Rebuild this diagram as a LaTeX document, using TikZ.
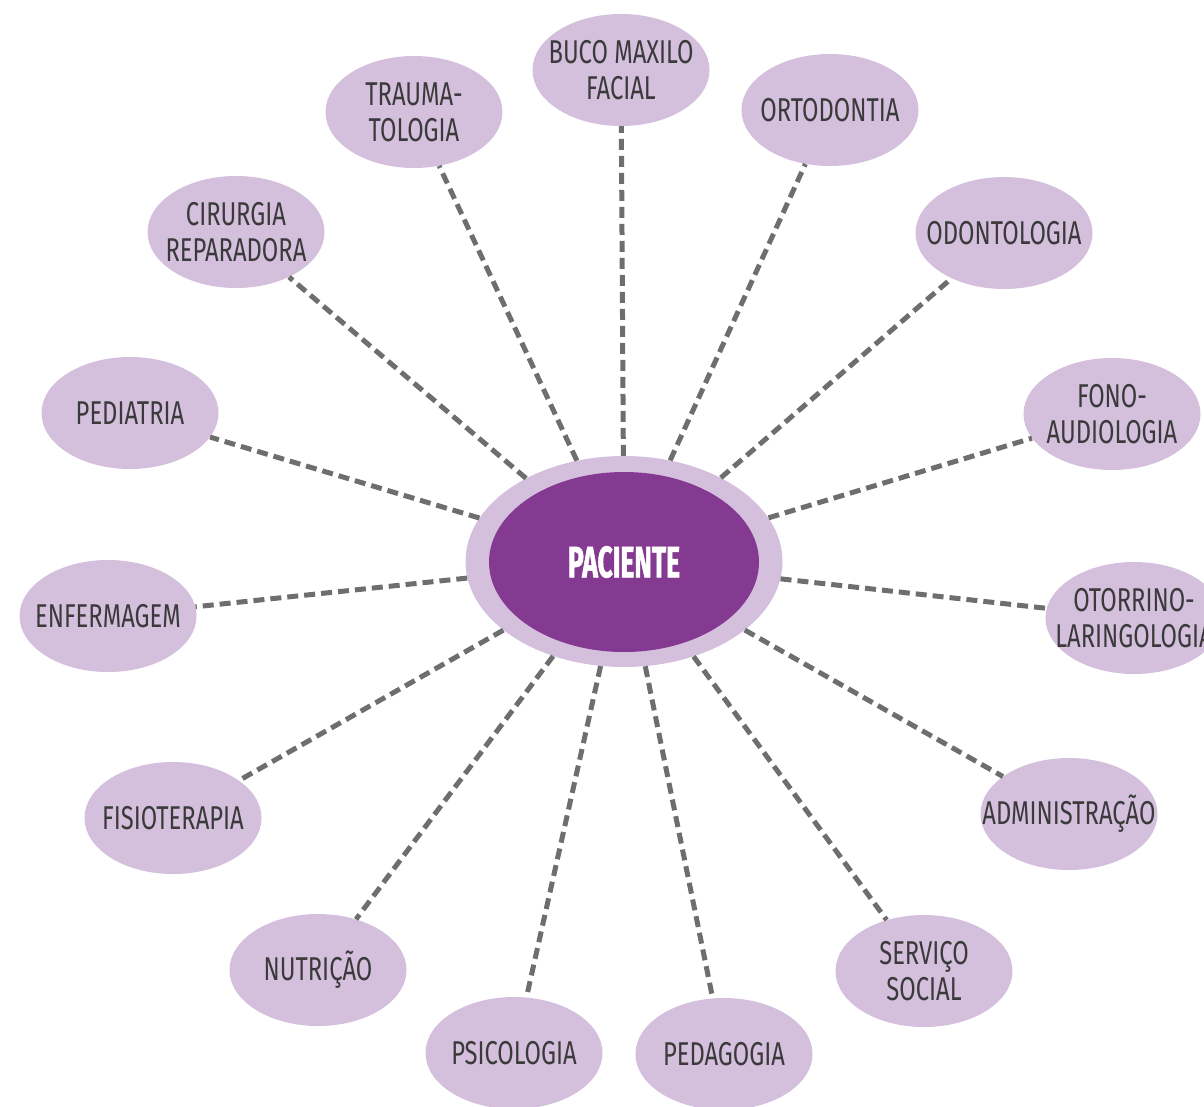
\documentclass[tikz,border=0pt]{standalone}
\usepackage{fontspec}
\setmainfont[FakeStretch=0.72]{Fira Sans}
\newfontfamily\pacfont[FakeStretch=0.6,BoldFeatures={FakeBold=1.2}]{Fira Sans}
\usetikzlibrary{shapes.geometric}
\definecolor{lilac}{HTML}{D4BFDD}
\definecolor{plum}{HTML}{853A91}
\definecolor{linegray}{HTML}{6E6E6E}
\definecolor{txtgray}{HTML}{3A3A3A}
\begin{document}
\begin{tikzpicture}[x=1pt,y=-1pt,
  lbl/.style={align=center, text=txtgray, inner sep=0pt, font=\fontsize{33}{36}\selectfont},
  sat/.style={ellipse, fill=lilac, minimum width=177pt, minimum height=112pt,
    inner sep=0pt, label={[lbl]center:{#1}}},
  link/.style={draw=linegray, line width=5pt, dash pattern=on 11pt off 6pt}]
\useasboundingbox (0,0) rectangle (1204,1106);
% centre
\node[ellipse, fill=lilac, minimum width=317pt, minimum height=211pt, inner sep=0pt] (ring) at (624,561.5) {};
\node[ellipse, fill=plum, minimum width=270pt, minimum height=180pt, inner sep=0pt,
  text=white, font=\pacfont\bfseries\fontsize{44}{44}\selectfont] (pac) at (624,562) {PACIENTE};
% satellites
\node[sat={BUCO MAXILO\\FACIAL}]         (buco)   at (621,70)   {};
\node[sat={TRAUMA-\\TOLOGIA}]            (trauma) at (414,112)  {};
\node[sat={ORTODONTIA}]                  (orto)   at (830,110)  {};
\node[sat={CIRURGIA\\REPARADORA}]        (cir)    at (236,232)  {};
\node[sat={ODONTOLOGIA}]                 (odonto) at (1004,233) {};
\node[sat={PEDIATRIA}]                   (ped)    at (130,413)  {};
\node[sat={FONO-\\AUDIOLOGIA}]           (fono)   at (1112,414) {};
\node[sat={ENFERMAGEM}]                  (enf)    at (108,616)  {};
\node[sat={OTORRINO-\\LARINGOLOGIA}]     (oto)    at (1134,618) {};
\node[sat={FISIOTERAPIA}]                (fisio)  at (173,818)  {};
\node[sat={ADMINISTRAÇÃO}]               (adm)    at (1069,814) {};
\node[sat={NUTRIÇÃO}]                    (nut)    at (318,970)  {};
\node[sat={SERVIÇO\\SOCIAL}]             (serv)   at (924,971)  {};
\node[sat={PSICOLOGIA}]                  (psi)    at (514,1053) {};
\node[sat={PEDAGOGIA}]                   (pedag)  at (724,1054) {};
% connectors
\foreach \s in {buco,trauma,orto,cir,odonto,ped,fono,enf,oto,fisio,adm,nut,serv,psi,pedag}
  \draw[link] (ring) -- (\s);
\end{tikzpicture}
\end{document}
